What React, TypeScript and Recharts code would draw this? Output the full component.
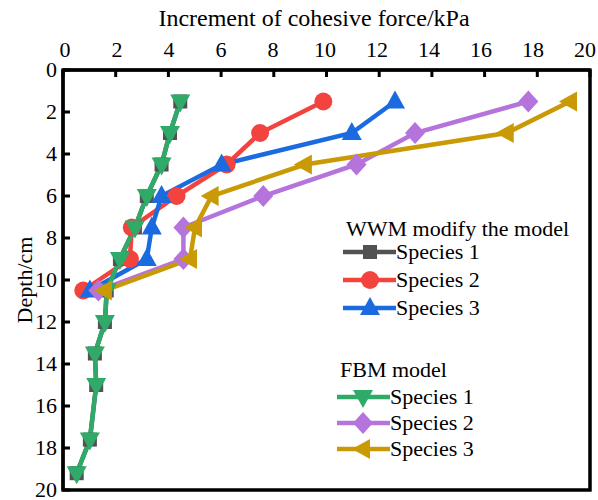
import { LineChart, Line, XAxis, YAxis, ReferenceArea } from 'recharts'

const FONT = '"Liberation Serif", "Times New Roman", serif'

// depth levels (cm)
const depthLong = [1.5, 3, 4.5, 6, 7.5, 9, 10.5, 12, 13.5, 15, 17.6, 19.2]
const depthShort = [1.5, 3, 4.5, 6, 7.5, 9, 10.5]

// increment of cohesive force (kPa)
const wwmSpecies1 = [4.45, 4.06, 3.74, 3.18, 2.73, 2.16, 1.66, 1.59, 1.21, 1.26, 1.02, 0.52]
const wwmSpecies2 = [9.88, 7.48, 6.21, 4.31, 2.61, 2.54, 0.77]
const wwmSpecies3 = [12.6, 10.96, 6.02, 3.74, 3.37, 3.18, 1.02]
const fbmSpecies1 = [4.45, 4.06, 3.74, 3.18, 2.73, 2.16, 1.66, 1.59, 1.21, 1.26, 1.02, 0.52]
const fbmSpecies2 = [17.66, 13.36, 11.14, 7.6, 4.57, 4.57, 1.34]
const fbmSpecies3 = [19.24, 16.84, 9.18, 5.64, 5.01, 4.82, 1.59]

const xTicks = [0, 2, 4, 6, 8, 10, 12, 14, 16, 18, 20]
const yTicks = [0, 2, 4, 6, 8, 10, 12, 14, 16, 18, 20]

type Kind = 'square' | 'circle' | 'up' | 'down' | 'diamond' | 'left'

const toPoints = (xs: number[], ds: number[]) => xs.map((x, i) => ({ x, depth: ds[i] }))

const series = [
  { id: 'w1', name: 'Species 1', group: 'wwm', kind: 'square' as Kind, color: '#525252', data: toPoints(wwmSpecies1, depthLong) },
  { id: 'w2', name: 'Species 2', group: 'wwm', kind: 'circle' as Kind, color: '#f3433f', data: toPoints(wwmSpecies2, depthShort) },
  { id: 'w3', name: 'Species 3', group: 'wwm', kind: 'up' as Kind, color: '#1b6ae0', data: toPoints(wwmSpecies3, depthShort) },
  { id: 'f1', name: 'Species 1', group: 'fbm', kind: 'down' as Kind, color: '#2faa69', data: toPoints(fbmSpecies1, depthLong) },
  { id: 'f2', name: 'Species 2', group: 'fbm', kind: 'diamond' as Kind, color: '#b574dc', data: toPoints(fbmSpecies2, depthShort) },
  { id: 'f3', name: 'Species 3', group: 'fbm', kind: 'left' as Kind, color: '#c99a06', data: toPoints(fbmSpecies3, depthShort) },
]

function marker(kind: Kind, cx: number, cy: number, color: string, key?: string | number) {
  switch (kind) {
    case 'square':
      return <rect key={key} x={cx - 7} y={cy - 7} width={14} height={14} fill={color} />
    case 'circle':
      return <circle key={key} cx={cx} cy={cy} r={9} fill={color} />
    case 'up':
      return <polygon key={key} points={`${cx},${cy - 11} ${cx - 10},${cy + 7} ${cx + 10},${cy + 7}`} fill={color} />
    case 'down':
      return <polygon key={key} points={`${cx},${cy + 11} ${cx - 10},${cy - 7} ${cx + 10},${cy - 7}`} fill={color} />
    case 'diamond':
      return <polygon key={key} points={`${cx},${cy - 11} ${cx + 10},${cy} ${cx},${cy + 11} ${cx - 10},${cy}`} fill={color} />
    case 'left':
      return <polygon key={key} points={`${cx - 11},${cy} ${cx + 7},${cy - 10} ${cx + 7},${cy + 10}`} fill={color} />
  }
}

const TopTick = (props: any) => {
  const { x, y, payload } = props
  // labels sit slightly tighter than the tick marks, as in the original
  const dx = 2 - payload.value * 0.35
  return (
    <g>
      <path d={`M${x},${y + 13}L${x},${y + 20}`} stroke="#000" strokeWidth={3} />
      <text x={x + dx} y={y} textAnchor="middle" fontSize={22} fontFamily={FONT} fill="#000">
        {payload.value}
      </text>
    </g>
  )
}

const LeftTick = (props: any) => {
  const { x, y, payload } = props
  return (
    <g>
      <path d={`M${x + 6},${y}L${x + 13},${y}`} stroke="#000" strokeWidth={3} />
      <text x={x} y={y + 7} textAnchor="end" fontSize={22} fontFamily={FONT} fill="#000">
        {payload.value}
      </text>
    </g>
  )
}

// titles, frame and legend drawn on top of the chart
const Overlay = () => {
  const wwm = series.filter((s) => s.group === 'wwm')
  const fbm = series.filter((s) => s.group === 'fbm')
  const textStyle = { fontSize: 22, fontFamily: FONT, fill: '#000' }
  return (
    <svg width={598} height={500} style={{ position: 'absolute', left: 0, top: 0, pointerEvents: 'none' }}>
      <text x={314} y={26} textAnchor="middle" fontSize={24} fontFamily={FONT} fill="#000">
        Increment of cohesive force/kPa
      </text>
      <text x={32} y={280} transform="rotate(-90 32 280)" textAnchor="middle" {...textStyle}>
        Depth/cm
      </text>
      <rect x={63} y={70} width={527} height={420} fill="none" stroke="#000" strokeWidth={3} />
      <g transform="translate(330 205)">
        <text x={16} y={31} {...textStyle}>WWM modify the model</text>
        {wwm.map((s, i) => {
          const cy = 47 + i * 28
          return (
            <g key={s.id}>
              <line x1={13} x2={66} y1={cy} y2={cy} stroke={s.color} strokeWidth={4.5} />
              {marker(s.kind, 40, cy, s.color)}
              <text x={66} y={cy + 7} {...textStyle}>{s.name}</text>
            </g>
          )
        })}
        <text x={10} y={172} {...textStyle}>FBM model</text>
        {fbm.map((s, i) => {
          const cy = 192 + i * 26
          return (
            <g key={s.id}>
              <line x1={7} x2={60} y1={cy} y2={cy} stroke={s.color} strokeWidth={4.5} />
              {marker(s.kind, 33, cy, s.color)}
              <text x={60} y={cy + 7} {...textStyle}>{s.name}</text>
            </g>
          )
        })}
      </g>
    </svg>
  )
}

export default function App() {
  return (
    <div style={{ position: 'absolute', left: 0, top: 0, width: 598, height: 500 }}>
      <LineChart width={598} height={500} margin={{ top: 15, right: 8, bottom: 10, left: 13 }}>
        <XAxis
          orientation="top"
          type="number"
          dataKey="x"
          domain={[0, 20]}
          ticks={xTicks}
          height={55}
          axisLine={{ stroke: '#000', strokeWidth: 3 }}
          tickLine={false}
          tickSize={0}
          tickMargin={13}
          tick={TopTick}
        />
        <YAxis
          type="number"
          domain={[0, 20]}
          reversed
          ticks={yTicks}
          width={50}
          axisLine={{ stroke: '#000', strokeWidth: 3 }}
          tickLine={false}
          tickSize={0}
          tickMargin={6}
          tick={LeftTick}
        />
        <ReferenceArea x1={0} x2={20} y1={0} y2={20} fill="none" stroke="#000" strokeWidth={3} />
        {series.map((s) => (
          <Line
            key={s.id}
            data={s.data}
            dataKey="depth"
            name={s.name}
            stroke={s.color}
            strokeWidth={4.5}
            isAnimationActive={false}
            dot={(p: any) => marker(s.kind, p.cx, p.cy, s.color, `${s.id}-${p.index}`)}
            activeDot={false}
          />
        ))}
      </LineChart>
      <Overlay />
    </div>
  )
}
